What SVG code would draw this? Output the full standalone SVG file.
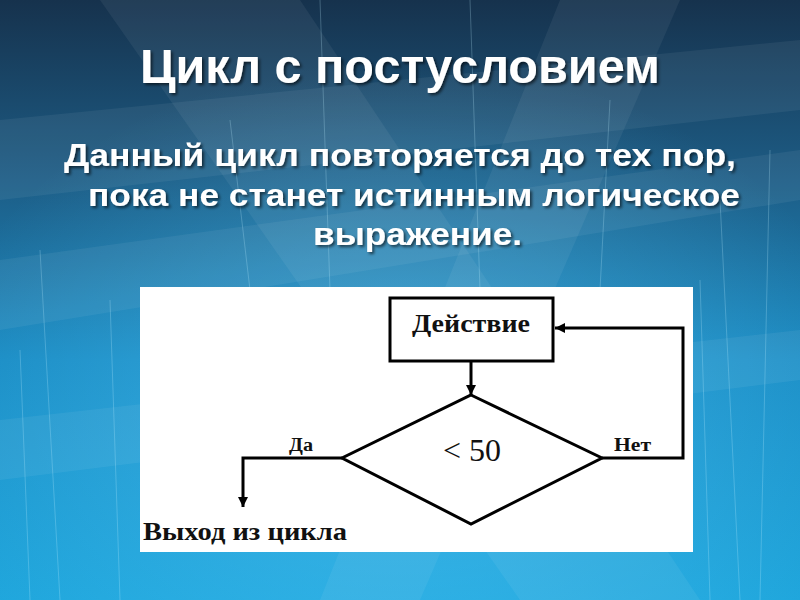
<svg xmlns="http://www.w3.org/2000/svg" width="800" height="600" viewBox="0 0 800 600">
<defs>
<linearGradient id="bg" x1="0" y1="0" x2="0" y2="1">
<stop offset="0" stop-color="#16324d"/>
<stop offset="0.3" stop-color="#1d5d86"/>
<stop offset="0.6" stop-color="#1a8cc4"/>
<stop offset="1" stop-color="#1fa6dc"/>
</linearGradient>
<radialGradient id="glow" cx="0.5" cy="0.7" r="0.6">
<stop offset="0" stop-color="#5fd0ff" stop-opacity="0.45"/>
<stop offset="1" stop-color="#5fd0ff" stop-opacity="0"/>
</radialGradient>
<filter id="sh" x="-5%" y="-20%" width="110%" height="140%">
<feDropShadow dx="2" dy="2" stdDeviation="1.5" flood-color="#000" flood-opacity="0.6"/>
</filter>
<marker id="ah" viewBox="0 0 10 10" refX="10" refY="5" markerWidth="10" markerHeight="10" markerUnits="userSpaceOnUse" orient="auto">
<path d="M0,0 L10,5 L0,10 z" fill="#000"/>
</marker>
<style>
.title{font-family:"Liberation Sans",Arial,sans-serif;font-weight:bold;fill:#fff;}
.body{font-family:"Liberation Sans",Arial,sans-serif;font-weight:bold;fill:#fff;font-size:32px;}
.lbl{font-family:"Liberation Serif","Times New Roman",serif;font-weight:bold;fill:#111;}
.shape{fill:#fff;stroke:#000;stroke-width:3;}
.conn{fill:none;stroke:#000;stroke-width:3;}
.streak{stroke:#bfefff;stroke-width:1;opacity:0.25;}
.band{fill:#ffffff;opacity:0.06;}
</style>
</defs>
<rect width="800" height="600" fill="url(#bg)"/>
<rect width="800" height="600" fill="url(#glow)"/>
<g id="background-decor">
<polygon class="band" points="0,120 800,40 800,110 0,200"/>
<polygon class="band" points="0,260 800,150 800,200 0,330"/>
<polygon class="band" points="100,0 300,0 700,600 520,600"/>
<polygon class="band" points="560,0 680,0 420,600 320,600"/>
<polygon class="band" points="0,420 800,330 800,380 0,480"/>
<line class="streak" x1="40" y1="250" x2="60" y2="600"/>
<line class="streak" x1="110" y1="300" x2="120" y2="600"/>
<line class="streak" x1="230" y1="120" x2="250" y2="290"/>
<line class="streak" x1="320" y1="0" x2="330" y2="290"/>
<line class="streak" x1="470" y1="0" x2="480" y2="290"/>
<line class="streak" x1="610" y1="100" x2="600" y2="290"/>
<line class="streak" x1="720" y1="200" x2="740" y2="600"/>
<line class="streak" x1="770" y1="150" x2="760" y2="600"/>
<line class="streak" x1="700" y1="280" x2="710" y2="600"/>
<line class="streak" x1="20" y1="350" x2="30" y2="600"/>
</g>
<g id="title">
<text class="title" x="400" y="83" font-size="48" text-anchor="middle" textLength="520" lengthAdjust="spacingAndGlyphs" filter="url(#sh)">Цикл с постусловием</text>
</g>
<g id="description" filter="url(#sh)">
<text class="body" x="64" y="166" textLength="672" lengthAdjust="spacingAndGlyphs">Данный цикл повторяется до тех пор,</text>
<text class="body" x="88" y="206" textLength="652" lengthAdjust="spacingAndGlyphs">пока не станет истинным логическое</text>
<text class="body" x="313" y="245" textLength="209" lengthAdjust="spacingAndGlyphs">выражение.</text>
</g>
<rect id="panel" x="140" y="287" width="553" height="265" fill="#fff"/>
<g id="connectors">
<line class="conn" x1="471" y1="361" x2="471" y2="395" marker-end="url(#ah)"/>
<polyline class="conn" points="342,458 243,458 243,507" marker-end="url(#ah)"/>
<polyline class="conn" points="602,458 683,458 683,328 555,328" marker-end="url(#ah)"/>
</g>
<g id="action">
<rect class="shape" x="390" y="298" width="163" height="63"/>
<text class="lbl" x="471" y="332" font-size="25" text-anchor="middle" textLength="118" lengthAdjust="spacingAndGlyphs">Действие</text>
</g>
<g id="condition">
<polygon class="shape" points="471,395 602,458 471,524 342,458"/>
<text class="lbl" x="472" y="461" font-size="31" text-anchor="middle" style="font-weight:normal" textLength="58" lengthAdjust="spacingAndGlyphs">&lt; 50</text>
</g>
<g id="labels">
<text class="lbl" x="289" y="451" font-size="18" textLength="24" lengthAdjust="spacingAndGlyphs">Да</text>
<text class="lbl" x="614" y="451" font-size="18" textLength="37" lengthAdjust="spacingAndGlyphs">Нет</text>
</g>
<g id="exit">
<text class="lbl" x="143" y="540" font-size="25" textLength="204" lengthAdjust="spacingAndGlyphs">Выход из цикла</text>
</g>
</svg>
